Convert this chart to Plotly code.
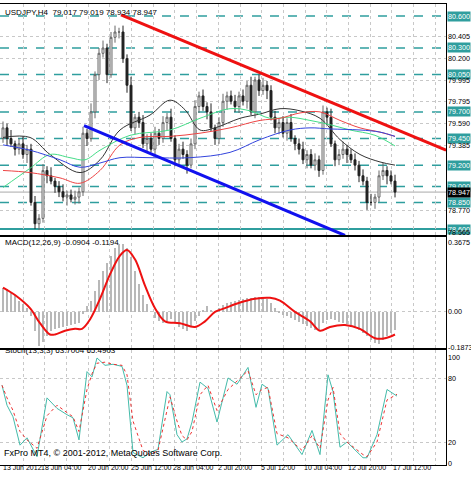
import plotly.graph_objects as go
from plotly.subplots import make_subplots

close = [79.55,79.45,79.40,79.35,79.40,79.30,79.35,78.85,78.65,78.70,
         79.15,79.10,79.05,79.00,78.95,78.90,78.92,78.88,78.90,78.95,
         79.50,79.45,79.70,80.05,80.25,80.30,80.05,80.40,80.45,80.45,
         80.20,79.95,79.55,79.65,79.60,79.40,79.45,79.35,79.50,79.45,
         79.60,79.65,79.45,79.25,79.35,79.30,79.20,79.40,79.75,79.85,
         79.75,79.70,79.55,79.45,79.60,79.80,79.85,79.80,79.75,79.85,
         79.80,79.95,79.70,80.00,79.90,79.95,79.90,79.65,79.55,79.60,
         79.50,79.60,79.45,79.40,79.35,79.25,79.30,79.20,79.25,79.15,
         79.70,79.65,79.40,79.25,79.30,79.35,79.30,79.25,79.20,79.10,
         79.05,78.85,78.85,78.90,79.10,79.15,79.10,79.05,78.947]
first_open = 79.45
wick_up = [0.06,0.04,0.08,0.03,0.05,0.07,0.04,0.05,0.06,0.04]
wick_dn = [0.04,0.07,0.03,0.06,0.05,0.04,0.08,0.03,0.05,0.06]

ma_x = [3,30,50,80,100,120,150,170,185,200,215,240,260,280,300,320,340,360,380,395]
ma_black = [79.46,79.46,79.30,79.13,79.25,79.53,79.67,79.81,79.72,79.53,79.55,79.64,79.68,79.73,79.71,79.64,79.44,79.30,79.23,79.20]
g_x = [3,30,50,70,85,100,130,170,200,230,250,270,290,310,330,350,375,395]
ma_green = [78.99,79.17,79.30,79.27,79.25,79.34,79.48,79.53,79.64,79.73,79.71,79.64,79.65,79.62,79.58,79.53,79.48,79.38]
r_x = [3,30,60,80,100,120,140,170,200,230,260,280,300,320,340,360,380,395]
ma_red = [79.15,79.13,79.08,79.03,79.15,79.39,79.46,79.47,79.50,79.55,79.62,79.64,79.69,79.70,79.62,79.55,79.51,79.47]
b_x = [3,30,60,80,100,120,150,190,230,260,290,310,330,360,380,395]
ma_blue = [79.39,79.34,79.25,79.18,79.22,79.27,79.27,79.27,79.32,79.44,79.53,79.55,79.54,79.53,79.51,79.47]

macd_hist = [0.13,0.12,0.10,0.09,0.06,0.04,0.02,-0.02,-0.10,-0.18,
             -0.16,-0.13,-0.10,-0.09,-0.085,-0.08,-0.075,-0.07,-0.065,-0.06,
             -0.01,0.03,0.06,0.11,0.17,0.22,0.26,0.30,0.34,0.36,
             0.36,0.34,0.29,0.22,0.15,0.09,0.04,0.0,-0.03,-0.05,
             -0.06,-0.05,-0.04,-0.06,-0.08,-0.09,-0.10,-0.08,-0.05,-0.02,
             0.01,0.03,0.01,0.0,0.02,0.035,0.045,0.055,0.06,0.065,
             0.07,0.075,0.075,0.08,0.08,0.08,0.07,0.05,0.02,-0.005,
             -0.015,-0.02,-0.03,-0.045,-0.055,-0.065,-0.075,-0.085,-0.095,-0.10,
             -0.06,-0.045,-0.04,-0.045,-0.055,-0.06,-0.065,-0.07,-0.08,-0.095,
             -0.11,-0.13,-0.15,-0.165,-0.17,-0.15,-0.13,-0.11,-0.095]
sig_x = [3,15,30,40,50,55,65,75,82,90,100,110,120,127,135,145,155,165,180,195,205,215,225,240,255,270,280,295,310,320,330,345,360,375,385,395]
macd_sig = [0.13,0.09,0.02,-0.06,-0.12,-0.12,-0.10,-0.09,-0.09,-0.04,0.07,0.20,0.30,0.33,0.28,0.14,0.02,-0.05,-0.06,-0.08,-0.05,0.0,0.02,0.05,0.07,0.075,0.06,0.0,-0.05,-0.10,-0.08,-0.07,-0.09,-0.14,-0.14,-0.12]

st_x = [2,7,13,20,27,37,47,57,67,73,79,87,92,97,105,113,122,127,133,143,150,158,167,170,177,182,187,192,200,208,217,228,237,248,256,262,268,277,288,302,312,320,328,333,340,347,363,367,377,387,397]
stoch_k = [74,55,44,17,24,6,62,52,46,43,22,87,82,100,93,94,92,74,10,5,10,13,68,65,27,20,23,39,77,71,39,81,75,91,53,75,71,17,27,8,31,8,84,68,15,20,5,5,27,70,63.7]
stoch_d = [74,62,50,30,22,14,45,55,48,44,30,70,85,95,96,94,93,84,40,12,8,12,50,63,40,26,22,30,65,74,50,70,78,88,65,70,72,28,24,12,26,14,60,72,28,20,8,6,20,60,65.5]

levels = [80.600,80.300,80.050,79.700,79.450,79.200,79.000,78.850,78.600]
plain_ticks = [80.405,80.200,79.995,79.795,79.590,79.385,78.770,78.565]
date_pos = [2,40,87,130,172,217,260,303,347,392]
date_labels = ["13 Jun 2012","18 Jun 04:00","20 Jun 20:00","25 Jun 12:00","28 Jun 04:00",
               "2 Jul 20:00","5 Jul 12:00","10 Jul 04:00","12 Jul 20:00","17 Jul 12:00"]

def px2i(v):
    return [(p - 3) / 4 for p in v]

n = len(close)
idx = list(range(n))
opens = [first_open] + close[:-1]
highs = [max(o, c) + wick_up[i % 10] for i, (o, c) in enumerate(zip(opens, close))]
lows = [min(o, c) - wick_dn[i % 10] for i, (o, c) in enumerate(zip(opens, close))]

TEAL = "#2f9e9e"
F = "Liberation Sans"
fig = make_subplots(rows=3, cols=1, shared_xaxes=True)
fig.add_trace(go.Candlestick(x=idx, open=opens, high=highs, low=lows, close=close,
    increasing=dict(line=dict(color="#666", width=1), fillcolor="white"),
    decreasing=dict(line=dict(color="#222", width=1), fillcolor="#222"),
    whiskerwidth=0), 1, 1)
for xs, ys, col in [(ma_x, ma_black, "#333"), (g_x, ma_green, "#44dd88"),
                    (r_x, ma_red, "#ee4444"), (b_x, ma_blue, "#3344dd")]:
    fig.add_trace(go.Scatter(x=px2i(xs), y=ys, mode="lines", line=dict(color=col, width=1, shape="spline")), 1, 1)
fig.add_trace(go.Scatter(x=[29.5, 110.75], y=[80.61, 79.34], mode="lines", line=dict(color="#ee1111", width=3)), 1, 1)
fig.add_trace(go.Scatter(x=[20.25, 85.5], y=[79.57, 78.54], mode="lines", line=dict(color="#1111ee", width=3)), 1, 1)
fig.add_trace(go.Bar(x=idx, y=macd_hist, marker=dict(color="#b8b8b8", line=dict(width=0)), width=0.5), 2, 1)
fig.add_trace(go.Scatter(x=px2i(sig_x), y=macd_sig, mode="lines", line=dict(color="#ee1111", width=2, shape="spline")), 2, 1)
fig.add_trace(go.Scatter(x=px2i(st_x), y=stoch_k, mode="lines", line=dict(color="#44bbaa", width=1)), 3, 1)
fig.add_trace(go.Scatter(x=px2i(st_x), y=stoch_d, mode="lines", line=dict(color="#ee3333", width=1, dash="dot")), 3, 1)

shapes = []
for lv in levels:
    shapes.append(dict(type="line", xref="paper", x0=0, x1=446/471, yref="y", y0=lv, y1=lv,
                       line=dict(color=TEAL, width=1.5 if lv != 78.6 else 2, dash="dash" if lv != 78.6 else "solid"), layer="below"))
shapes.append(dict(type="line", xref="paper", x0=0, x1=446/471, yref="y", y0=78.947, y1=78.947,
                   line=dict(color="#aaaaaa", width=1), layer="below"))

ann = []
def txt(x, y, t, yref="paper", **kw):
    d = dict(x=x/471, xref="paper", y=y, yref=yref, text=t,
             showarrow=False, xanchor="left", font=dict(family=F, size=8, color="black"),
             borderpad=0)
    d.update(kw)
    ann.append(d)
RS = 7.2
for lv in levels:
    txt(447, lv, f"{lv:.3f}", yref="y", bgcolor=TEAL, font=dict(family=F, size=RS, color="white"))
for t in plain_ticks:
    txt(447, t, f"{t:.3f}", yref="y", font=dict(family=F, size=RS, color="black"))
txt(447, 78.947, "78.947", yref="y", bgcolor="black", font=dict(family=F, size=RS, color="white"))
txt(447, 0.3675, "0.3675", yref="y2", font=dict(family=F, size=RS, color="black"))
txt(447, 0.0, "0.00", yref="y2", font=dict(family=F, size=RS, color="black"))
txt(447, -0.1873, "-0.1873", yref="y2", font=dict(family=F, size=RS, color="black"))
for v in [100, 80, 20, 0]:
    txt(447, v, str(v), yref="y3", font=dict(family=F, size=RS, color="black"))
txt(4, 1 - 7/480, "USDJPY,H4  79.017 79.019 78.934 78.947")
txt(4, 1 - 242/480, "MACD(12,26,9) -0.0904 -0.1194")
txt(4, 1 - 356/480, "Stoch(13,3,3) 63.7004 65.4903")
txt(3, 1 - 459/480, "FxPro MT4, © 2001-2012, MetaQuotes Software Corp.", font=dict(family=F, size=9, color="black"))
for p, l in zip(date_pos, date_labels):
    txt(p, 1 - 472/480, l, font=dict(family=F, size=7, color="black"))

xr = [-0.75, 110.75]
gx = px2i([23 + 21.7 * k for k in range(20)])
common_x = dict(range=xr, showticklabels=False, showline=True, mirror=True, linecolor="black",
                tickvals=gx, showgrid=True, gridcolor="#c8c8c8", griddash="dot", zeroline=False,
                rangeslider=dict(visible=False), domain=[0, 446/471], ticks="")
fig.update_layout(width=471, height=480, margin=dict(l=0, r=0, t=0, b=0), showlegend=False,
                  plot_bgcolor="white", paper_bgcolor="white", shapes=shapes, annotations=ann,
                  bargap=0)
for k in ["xaxis", "xaxis2", "xaxis3"]:
    fig.layout[k].update(**common_x)
cy = dict(showticklabels=False, showline=True, mirror=True, linecolor="black", gridcolor="#c8c8c8",
          griddash="dot", zeroline=False, ticks="")
fig.layout.yaxis.update(**cy, domain=[1-235/480, 1-4/480], range=[78.544, 80.713],
                        tickvals=[80.405, 80.2, 79.995, 79.795, 79.59, 79.385, 78.77])
fig.layout.yaxis2.update(**cy, domain=[1-348/480, 1-237/480], range=[-0.192, 0.399], tickvals=[0.0])
fig.layout.yaxis3.update(**cy, domain=[1-465/480, 1-350/480], range=[-1.9, 107.6], tickvals=[20, 80])
fig.write_html("out.html", config={"displayModeBar": False},
               post_script="document.body.style.margin='0';document.body.style.overflow='hidden';document.documentElement.style.overflow='hidden';")
